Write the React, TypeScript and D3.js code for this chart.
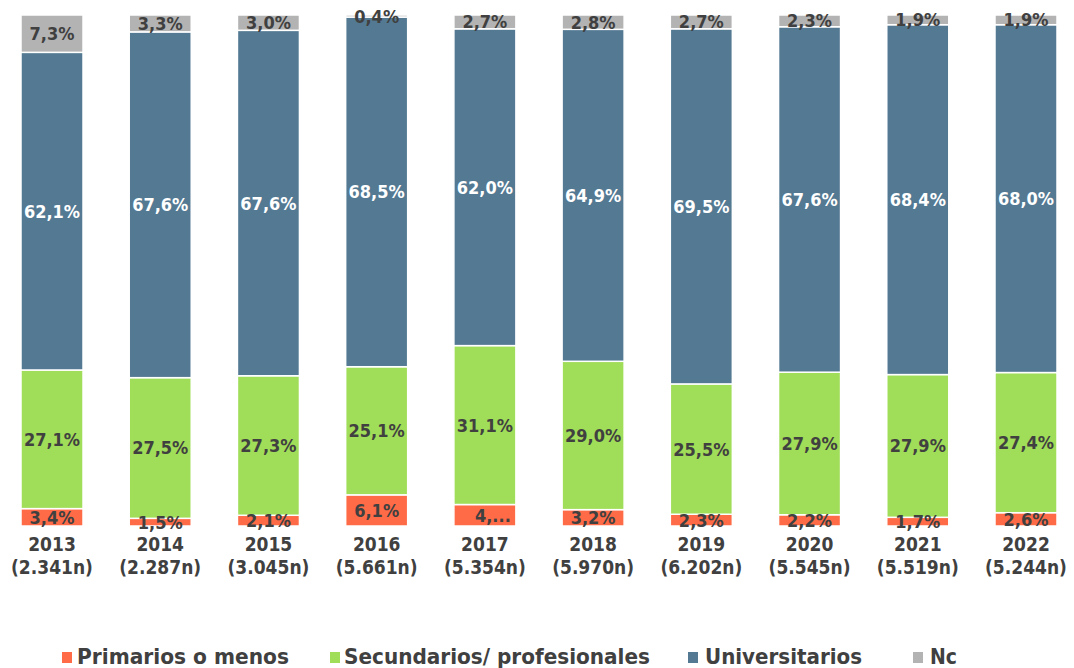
import React from "react";
import * as d3 from "d3";

const years = ["2013", "2014", "2015", "2016", "2017", "2018", "2019", "2020", "2021", "2022"];
const sampleSizes = ["(2.341n)", "(2.287n)", "(3.045n)", "(5.661n)", "(5.354n)", "(5.970n)", "(6.202n)", "(5.545n)", "(5.519n)", "(5.244n)"];
const primarios = [3.4, 1.5, 2.1, 6.1, 4.2, 3.2, 2.3, 2.2, 1.7, 2.6];
const secundarios = [27.1, 27.5, 27.3, 25.1, 31.1, 29.0, 25.5, 27.9, 27.9, 27.4];
const universitarios = [62.1, 67.6, 67.6, 68.5, 62.0, 64.9, 69.5, 67.6, 68.4, 68.0];
const nc = [7.3, 3.3, 3.0, 0.4, 2.7, 2.8, 2.7, 2.3, 1.9, 1.9];
const seriesNames = ["Primarios o menos", "Secundarios/ profesionales", "Universitarios", "Nc"];
const truncatedLabels: Record<string, string> = { "Primarios o menos|2017": "4,..." };

const colors = ["#FF6B47", "#A0DD58", "#537993", "#B3B3B3"];
const labelColors = ["#404040", "#404040", "#FFFFFF", "#404040"];

export default function App() {
  const W = 1074, H = 668;
  const top = 15, bottom = 526;
  const seriesValues = [primarios, secundarios, universitarios, nc];
  const rows = years.map((y, i) => {
    const r: any = { year: y };
    seriesNames.forEach((s, k) => (r[s] = seriesValues[k][i]));
    return r;
  });
  const stack = d3.stack<any>().keys(seriesNames).offset(d3.stackOffsetExpand);
  const stacked = stack(rows);

  const x = d3.scaleBand<string>().domain(years).range([21, 1057]).paddingInner(0.427).paddingOuter(0);
  const y = d3.scaleLinear().domain([0, 1]).range([bottom, top]);
  const fmt = (v: number) => v.toFixed(1).replace(".", ",") + "%";
  const font = "'DejaVu Sans Condensed', 'DejaVu Sans', sans-serif";

  const legendItems = [
    { sq: 62, tx: 77, w: 212 },
    { sq: 330, tx: 344, w: 306 },
    { sq: 688, tx: 705, w: 157 },
    { sq: 913, tx: 930, w: 27 },
  ];

  return (
    <svg width={W} height={H} style={{ position: "absolute", left: 0, top: 0, background: "#fff" }}>
      {stacked.map((layer, k) => (
        <g key={layer.key}>
          {layer.map((d, i) => (
            <rect
              key={i}
              x={x(years[i])}
              y={y(d[1])}
              width={x.bandwidth()}
              height={Math.max(0, y(d[0]) - y(d[1]))}
              fill={colors[k]}
              stroke="#fff"
              strokeWidth={1.5}
            />
          ))}
        </g>
      ))}
      {stacked.map((layer, k) => (
        <g key={"l" + layer.key}>
          {layer.map((d, i) => {
            const key = layer.key + "|" + years[i];
            const txt = truncatedLabels[key] ?? fmt(seriesValues[k][i]);
            const cx = x(years[i])! + x.bandwidth() / 2 + (truncatedLabels[key] ? 8 : 0);
            const cy = (y(d[0]) + y(d[1])) / 2;
            return (
              <text
                key={i}
                x={cx}
                y={cy}
                textAnchor="middle"
                dominantBaseline="central"
                fontFamily={font}
                fontWeight="bold"
                fontSize={18}
                fill={labelColors[k]}
              >
                {txt}
              </text>
            );
          })}
        </g>
      ))}
      {years.map((yr, i) => {
        const cx = x(yr)! + x.bandwidth() / 2;
        return (
          <g key={"ax" + yr}>
            <text x={cx} y={551} textAnchor="middle" fontFamily={font} fontWeight="bold" fontSize={19} fill="#404040">
              {yr}
            </text>
            <text x={cx} y={574} textAnchor="middle" fontFamily={font} fontWeight="bold" fontSize={19} fill="#404040">
              {sampleSizes[i]}
            </text>
          </g>
        );
      })}
      {seriesNames.map((s, k) => (
        <g key={"lg" + s}>
          <rect x={legendItems[k].sq} y={652} width={10} height={11} fill={colors[k]} />
          <text
            x={legendItems[k].tx}
            y={664}
            fontFamily={font}
            fontWeight="bold"
            fontSize={21}
            fill="#404040"
            textLength={legendItems[k].w}
            lengthAdjust="spacingAndGlyphs"
          >
            {s}
          </text>
        </g>
      ))}
    </svg>
  );
}
